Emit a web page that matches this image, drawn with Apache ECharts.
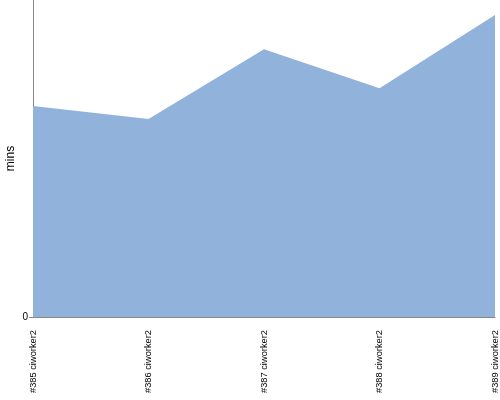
<!DOCTYPE html>
<html><head><meta charset="utf-8">
<script src="https://cdn.jsdelivr.net/npm/echarts@6/dist/echarts.min.js"></script>
<style>html,body{margin:0;padding:0;background:#fff}#c{width:500px;height:400px}</style>
</head><body><div id="c"></div>
<script>
var categories = ["#385 ciworker2", "#386 ciworker2", "#387 ciworker2", "#388 ciworker2", "#389 ciworker2"];
var values = [66.6, 62.5, 84.5, 72.2, 95.3];
var yAxisName = "mins";

var chart = echarts.init(document.getElementById('c'), null, {renderer: 'canvas'});
chart.setOption({
  animation: false,
  grid: {left: 33, right: 5, top: 0, bottom: 83, containLabel: false, outerBoundsMode: 'none'},
  xAxis: {
    type: 'category', data: categories, boundaryGap: false,
    axisLine: {lineStyle: {color: '#888', width: 1}},
    axisTick: {show: false},
    axisLabel: {rotate: 90, color: '#000', fontSize: 9.3, fontFamily: 'Liberation Sans, sans-serif', margin: 13, interval: 0}
  },
  yAxis: {
    type: 'value', min: 0, max: 100, interval: 100,
    name: yAxisName, nameLocation: 'middle', nameGap: 16, nameRotate: 90, nameMoveOverlap: false,
    nameTextStyle: {color: '#000', fontSize: 12, fontFamily: 'Liberation Sans, sans-serif'},
    axisLine: {show: true, lineStyle: {color: '#888', width: 1}},
    axisTick: {show: true, length: 4, lineStyle: {color: '#888'}},
    splitLine: {show: false},
    axisLabel: {showMaxLabel: false, color: '#000', fontSize: 10, fontFamily: 'Liberation Sans, sans-serif', margin: 5}
  },
  series: [{
    type: 'line', data: values, symbol: 'none',
    lineStyle: {width: 0},
    areaStyle: {color: '#90b2db', opacity: 1}
  }]
});
</script></body></html>
